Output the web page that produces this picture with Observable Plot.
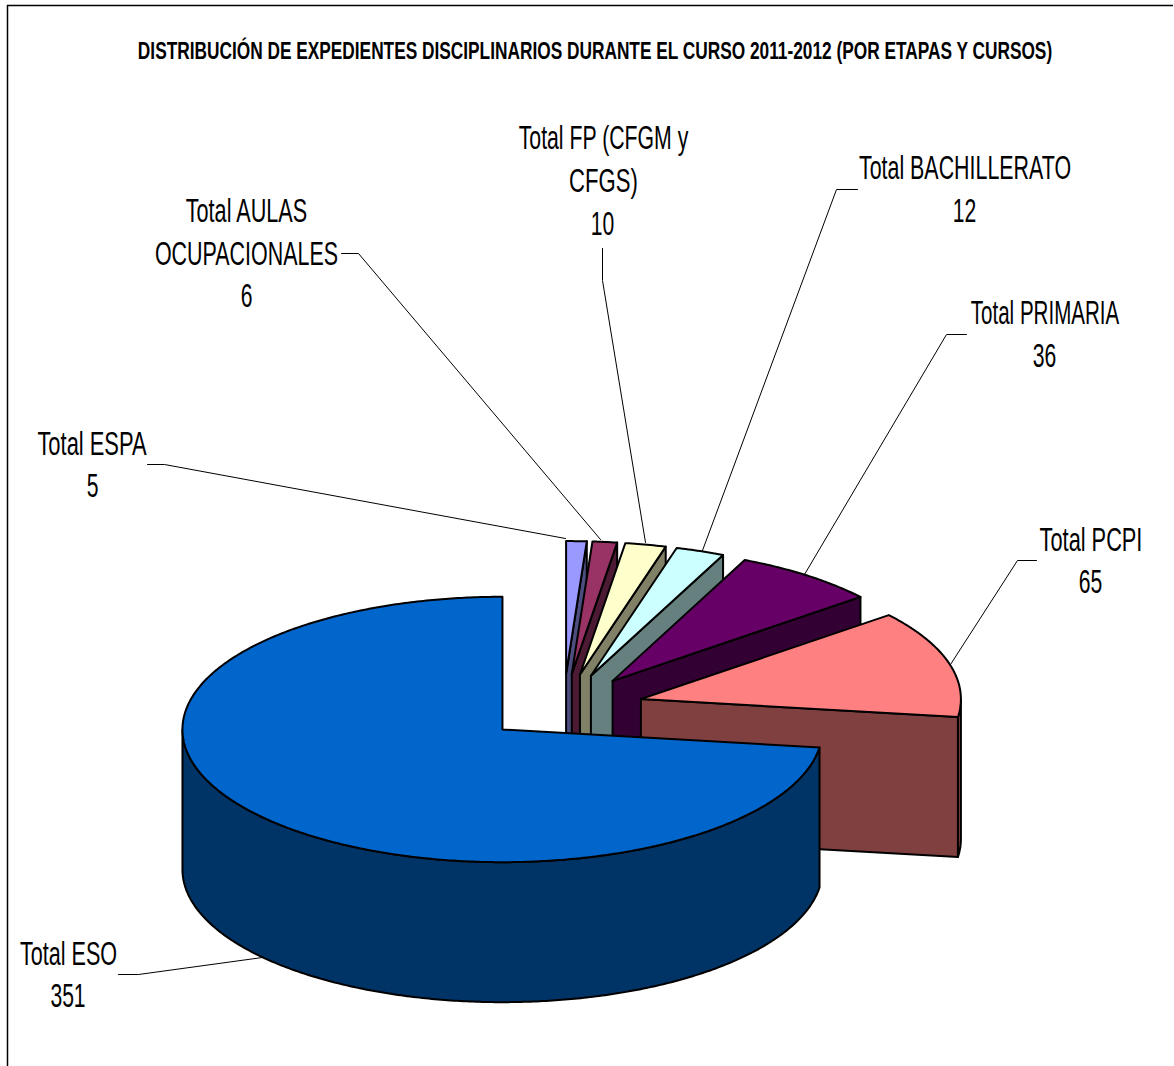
<!DOCTYPE html>
<html lang="es">
<head>
<meta charset="utf-8">
<title>Expedientes disciplinarios 2011-2012</title>
<style>
html,body{margin:0;padding:0;background:#fff;}
svg{display:block;}
</style>
<script src="https://cdn.jsdelivr.net/npm/d3@7"></script>
<script src="https://cdn.jsdelivr.net/npm/@observablehq/plot@0.6"></script>
</head>
<body>
<div id="chart"></div>
<script>
// ---- data (clockwise from 12 o'clock) ----
const categories = ["Total ESPA","Total AULAS OCUPACIONALES","Total FP (CFGM y CFGS)","Total BACHILLERATO","Total PRIMARIA","Total PCPI","Total ESO"];
const values = [5,6,10,12,36,65,351];
const chartTitle = "DISTRIBUCIÓN DE EXPEDIENTES DISCIPLINARIOS DURANTE EL CURSO 2011-2012 (POR ETAPAS Y CURSOS)";

// ---- styles ----
const topColors  = ["#9999FF","#993366","#FFFFCC","#CCFFFF","#660066","#FF8080","#0066CC"];
const wallColors = ["#4D4D80","#4D1A33","#808066","#668080","#330033","#804040","#003366"];

// ---- layout ----
const W = 1174, H = 1066;
const cx = 563, cy = 707.1, rx = 320, ry = 132.7, depth = 140, explodeX = 0.25, explodeY = 0.255;
const angleSqueeze = 0.017; // the 3D view foreshortens the fan of small slices slightly, growing with angle
// text, x, y, horizontal squeeze
const labelLines = [
  [["Total ESPA",91.5,444,.664],["5",92,486,.64]],
  [["Total AULAS",246,211,.656],["OCUPACIONALES",246,254,.65],["6",246,296,.64]],
  [["Total FP (CFGM y",603,138,.644],["CFGS)",603,181,.67],["10",602,224,.64]],
  [["Total BACHILLERATO",964.5,168,.649],["12",964,211,.64]],
  [["Total PRIMARIA",1044.5,313,.623],["36",1044,356,.64]],
  [["Total PCPI",1090.5,540,.66],["65",1090,582,.64]],
  [["Total ESO",68,954,.654],["351",67.5,996,.64]]
];
const leaders = [
  [[147,464],[164,464],[565,538]],
  [[341,253],[358,253],[600,539]],
  [[602,248],[602,280],[645,542]],
  [[857,189],[836,189],[702,550]],
  [[966,334],[946,334],[804,574]],
  [[1036,560],[1017,560],[950,664]],
  [[118,974],[138,974],[262,957]]
];

// ---- geometry derived from the values ----
const total = d3.sum(values);
const rad = v => v / total * 2 * Math.PI;
const fanEnd = rad(total - values[values.length - 1]);
const view = a => a <= fanEnd + 1e-9 ? a * (1 - angleSqueeze * a / fanEnd) : a;
let acc = 0;
const slices = values.map((v, i) => {
  const a0 = acc, a1 = acc + rad(v); acc = a1;
  const m = (a0 + a1) / 2;
  return {i, a0: view(a0), a1: view(a1), ox: cx + explodeX * rx * Math.sin(m), oy: cy - explodeY * ry * Math.cos(m)};
});
const rim = (s, a, dz = 0) => [s.ox + rx * Math.sin(a), s.oy - ry * Math.cos(a) + dz];
const arc = (s, a0, a1, dz = 0) => {
  const n = Math.max(2, Math.ceil((a1 - a0) / 0.01));
  return d3.range(n + 1).map(k => rim(s, a0 + (a1 - a0) * k / n, dz));
};

const poly = (pts, fill, sw = 2) => Plot.line(pts, {
  x: d => d[0], y: d => d[1], fill, stroke: "#000", strokeWidth: sw,
  curve: "linear-closed", strokeLinejoin: "round"
});

const marks = [];
// frame
marks.push(Plot.ruleX([7], {y1: 5, y2: H, stroke: "#000", strokeWidth: 1.5}));
marks.push(Plot.ruleY([5], {x1: 7, x2: W - 1, stroke: "#000", strokeWidth: 1.5}));

// leader lines sit under the slices
for (const l of leaders) marks.push(Plot.line(l, {x: d => d[0], y: d => d[1], stroke: "#000", strokeWidth: 1, curve: "linear"}));

// painter's order: back and small slices first, the big slice last
for (const s of slices) {
  if (s.i !== slices.length - 1) {
    marks.push(poly([[s.ox, s.oy], rim(s, s.a1), rim(s, s.a1, depth), [s.ox, s.oy + depth]], wallColors[s.i]));
  }
  const lo = Math.max(s.a0, Math.PI / 2), hi = Math.min(s.a1, 3 * Math.PI / 2);
  if (hi > lo) {
    marks.push(poly([...arc(s, lo, hi), ...arc(s, lo, hi, depth).reverse()], wallColors[s.i]));
  }
  marks.push(poly([[s.ox, s.oy], ...arc(s, s.a0, s.a1)], topColors[s.i]));
}

// labels
const labelRows = labelLines.flat().map(([text, x, y, f]) => ({text, x, y, f}));
marks.push(Plot.text(labelRows, {
  x: "x", y: "y", text: "text", fontSize: 33, fill: "#000",
  textAnchor: "middle", lineAnchor: "middle", fontFamily: "Liberation Sans", className: "lbl"
}));
marks.push(Plot.text([{text: chartTitle, x: 594.5, y: 51}], {
  x: "x", y: "y", text: "text", fontSize: 24.5, fontWeight: "bold", fill: "#000",
  textAnchor: "middle", lineAnchor: "middle", fontFamily: "Liberation Sans", className: "ttl"
}));

const svg = Plot.plot({
  width: W, height: H, margin: 0,
  x: {domain: [0, W], range: [0, W], axis: null},
  y: {domain: [0, H], range: [0, H], axis: null},
  style: {background: "#fff", overflow: "visible"},
  marks
});
document.getElementById("chart").append(svg);

// the reference's text is squeezed horizontally
const squeeze = (t, f) => t.setAttribute("transform", `${t.getAttribute("transform") || ""} scale(${f},1)`);
svg.querySelectorAll(".lbl text").forEach((t, i) => squeeze(t, labelRows[i].f));
svg.querySelectorAll(".ttl text").forEach(t => squeeze(t, 915 / t.getComputedTextLength()));
</script>
</body>
</html>
